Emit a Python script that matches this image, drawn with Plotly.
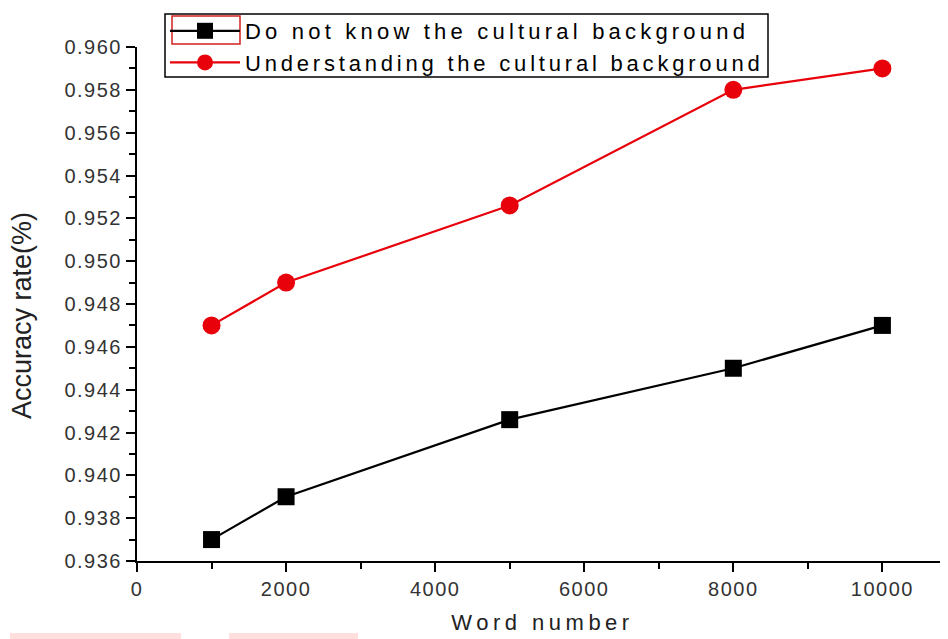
import plotly.graph_objects as go

word_numbers = [1000, 2000, 5000, 8000, 10000]
no_background = [0.937, 0.939, 0.9426, 0.945, 0.947]
with_background = [0.947, 0.949, 0.9526, 0.958, 0.959]
series_names = ["Do not know the cultural background", "Understanding the cultural background"]
y_ticks = [0.936, 0.938, 0.940, 0.942, 0.944, 0.946, 0.948, 0.950, 0.952, 0.954, 0.956, 0.958, 0.960]
x_ticks = [0, 2000, 4000, 6000, 8000, 10000]
x_title = "Word number"
y_title = "Accuracy rate(%)"

FONT = "Liberation Sans"


def spaced(text, px):
    return f'<span style="letter-spacing:{px}px">{text}</span>'


fig = go.Figure()
fig.add_trace(go.Scatter(
    x=word_numbers, y=no_background, name=spaced(series_names[0], 4.2), mode="lines+markers",
    line=dict(color="black", width=2.2),
    marker=dict(symbol="square", size=17, color="black"),
))
fig.add_trace(go.Scatter(
    x=word_numbers, y=with_background, name=spaced(series_names[1], 3.8), mode="lines+markers",
    line=dict(color="#e8000b", width=2.2),
    marker=dict(symbol="circle", size=18, color="#e8000b"),
))

axis_common = dict(
    showgrid=False, zeroline=False, showline=True, linecolor="black", linewidth=2,
    ticks="outside", ticklen=9, tickwidth=2, tickcolor="black",
    tickfont=dict(family=FONT, size=20, color="#333333"),
    mirror=False,
)

fig.update_xaxes(
    range=[0, 10880], tickvals=x_ticks, ticktext=[spaced(str(v), 1.5) for v in x_ticks],
    title=dict(text=spaced(x_title, 4.5), font=dict(family=FONT, size=22, color="#222"), standoff=16),
    minor=dict(ticks="outside", ticklen=6, tickwidth=1.5, tickcolor="black",
               tickvals=[1000, 3000, 5000, 7000, 9000]),
    **axis_common,
)
fig.update_yaxes(
    range=[0.936, 0.960], tickvals=y_ticks, ticktext=[spaced(f"{v:.3f}", 1.5) for v in y_ticks],
    minor=dict(ticks="outside", ticklen=6, tickwidth=1.5, tickcolor="black",
               tickvals=[v + 0.001 for v in y_ticks[:-1]]),
    **axis_common,
)

# page offset of 8px (default body margin) is compensated in size/margins
PLOT_L, PLOT_T, PLOT_B = 137, 47, 561
W, H = 940, 631


def px_to_paper_x(px):
    return (px - PLOT_L) / (948 - PLOT_L)


def px_to_paper_y(py):
    return (PLOT_B - py) / (PLOT_B - PLOT_T)


fig.add_annotation(
    text=y_title, textangle=-90, showarrow=False,
    xref="paper", yref="paper", x=px_to_paper_x(22), y=px_to_paper_y(315),
    xanchor="center", yanchor="middle",
    font=dict(family=FONT, size=27, color="#222"),
)

# legend frame (drawn as a shape so the rows can sit where the reference has them)
fig.add_shape(type="rect", xref="paper", yref="paper",
              x0=px_to_paper_x(165), x1=px_to_paper_x(768),
              y0=px_to_paper_y(77), y1=px_to_paper_y(14),
              line=dict(color="black", width=1.5), fillcolor="white", layer="above")
# red frame around the first legend sample, and faint pink strips at the bottom edge
fig.add_shape(type="rect", xref="paper", yref="paper",
              x0=px_to_paper_x(172), x1=px_to_paper_x(240),
              y0=px_to_paper_y(44), y1=px_to_paper_y(16),
              line=dict(color="#d42020", width=1.5), fillcolor="rgba(0,0,0,0)", layer="above")
for x0, x1 in [(10, 181), (229, 358)]:
    fig.add_shape(type="rect", xref="paper", yref="paper",
                  x0=px_to_paper_x(x0), x1=px_to_paper_x(x1),
                  y0=px_to_paper_y(640), y1=px_to_paper_y(633),
                  line=dict(width=0), fillcolor="#ffdede")

fig.update_layout(
    width=W, height=H,
    margin=dict(l=PLOT_L - 8, r=0, t=PLOT_T - 8, b=(639 - PLOT_B)),
    paper_bgcolor="white", plot_bgcolor="white",
    showlegend=True,
    legend=dict(
        x=px_to_paper_x(165), y=px_to_paper_y(10), xanchor="left", yanchor="top",
        bgcolor="rgba(255,255,255,0)", borderwidth=0,
        font=dict(family=FONT, size=22, color="black"),
        itemwidth=70, tracegroupgap=0,
    ),
)

fig.write_html("out.html")
